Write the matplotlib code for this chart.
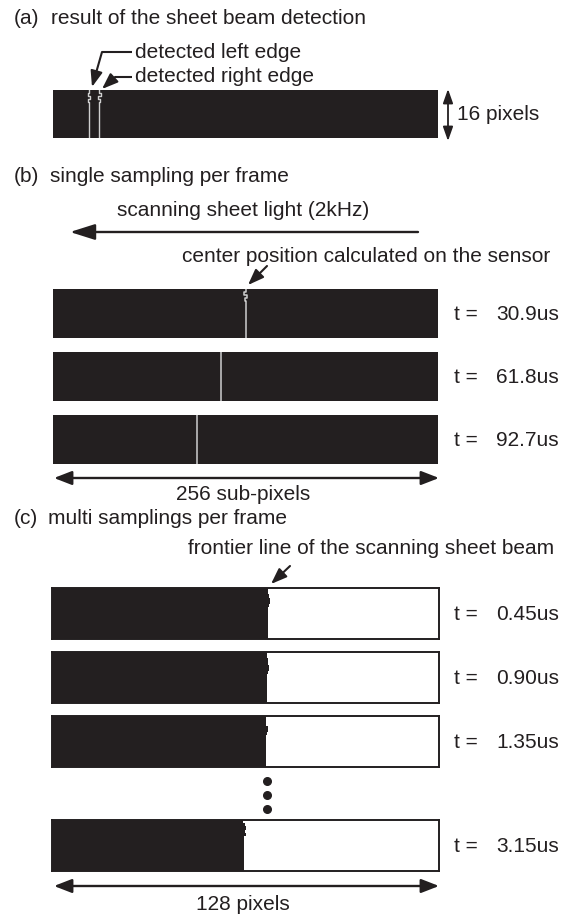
import numpy as np
import matplotlib
matplotlib.use("Agg")
import matplotlib.pyplot as plt

plt.rcParams['font.family'] = ['Liberation Sans', 'DejaVu Sans']

INK = '#231f20'
LINE = '#cfcfcf'

# ---------------- data ----------------
# (a) detected edges per sensor row (16 rows, units: sub-pixels of 256)
a_left_edge = [24.0, 23.0, 24.8, 23.6, 24.0, 24.0, 24.0, 24.0,
               24.0, 24.0, 24.0, 24.0, 24.0, 24.0, 24.0, 24.0]
a_right_edge = [30.6, 31.6, 29.8, 31.0, 30.6, 30.6, 30.6, 30.6,
                30.6, 30.6, 30.6, 30.6, 30.6, 30.6, 30.6, 30.6]

# (b) center position per row for each frame (sub-pixels of 256)
b_times = ['30.9us', '61.8us', '92.7us']
b_centers = [
    [128.2, 127.2, 128.8, 127.6, 128.2, 128.2, 128.2, 128.2,
     128.2, 128.2, 128.2, 128.2, 128.2, 128.2, 128.2, 128.2],
    [111.8] * 16,
    [95.9] * 16,
]

# (c) frontier line per row (pixels of 128)
c_times = ['0.45us', '0.90us', '1.35us', '3.15us']
c_frontier = [
    [71.6, 71.6, 71.8, 72.1, 72.0, 71.8, 71.6, 71.6,
     71.6, 71.6, 71.6, 71.6, 71.6, 71.6, 71.6, 71.6],
    [71.1, 71.1, 71.3, 71.6, 71.8, 71.7, 71.5, 71.2,
     71.1, 71.1, 71.1, 71.1, 71.1, 71.1, 71.1, 71.1],
    [70.8, 70.8, 70.9, 71.4, 71.6, 71.2, 70.8, 70.8,
     70.8, 70.8, 70.8, 70.8, 70.8, 70.8, 70.8, 70.8],
    [63.3, 63.8, 64.3, 63.7, 64.0, 63.5, 63.4, 63.6,
     63.4, 63.4, 63.4, 63.4, 63.4, 63.4, 63.4, 63.4],
]

N_ROWS = 16
SUBPIX = 256
PIX = 128

# ---------------- layout ----------------
W, H = 567, 916
fig = plt.figure(figsize=(W / 100, H / 100), dpi=100)
fig.patch.set_facecolor('white')


def bar_axes(x0, y0, x1, y1):
    ax = fig.add_axes([x0 / W, 1 - y1 / H, (x1 - x0) / W, (y1 - y0) / H])
    ax.set_xticks([])
    ax.set_yticks([])
    ax.set_ylim(N_ROWS, 0)
    return ax


def row_line(ax, vals, **kw):
    vals = np.asarray(vals, float)
    xs = np.repeat(vals, 2)
    ys = np.repeat(np.arange(N_ROWS + 1), 2)[1:-1]
    ax.plot(xs, ys, **kw)


# (a)
ax = bar_axes(53, 90, 438, 138)
ax.set_xlim(0, SUBPIX)
ax.set_facecolor(INK)
for s in ax.spines.values():
    s.set_visible(False)
row_line(ax, a_left_edge, color=LINE, lw=1.0)
row_line(ax, a_right_edge, color=LINE, lw=1.0)

# (b)
b_rows = [(289, 338), (352, 401), (415, 464)]
for (y0, y1), cen in zip(b_rows, b_centers):
    ax = bar_axes(53, y0, 438, y1)
    ax.set_xlim(0, SUBPIX)
    ax.set_facecolor(INK)
    for s in ax.spines.values():
        s.set_visible(False)
    row_line(ax, cen, color=LINE, lw=1.1)

# (c)
c_rows = [(588, 639), (652, 703), (716, 767), (820, 871)]
for (y0, y1), fr in zip(c_rows, c_frontier):
    ax = bar_axes(52, y0, 439, y1)
    ax.set_xlim(0, PIX)
    ax.set_facecolor('white')
    ax.barh(np.arange(N_ROWS) + 0.5, fr, height=1.02, left=0,
            color=INK, edgecolor='none')
    for s in ax.spines.values():
        s.set_color(INK)
        s.set_linewidth(1.4)

# ---------------- overlay (texts, arrows) ----------------
ov = fig.add_axes([0, 0, 1, 1])
ov.set_xlim(0, W)
ov.set_ylim(H, 0)
ov.axis('off')
ov.patch.set_alpha(0)
ov.set_zorder(10)

FS = 15
tkw = dict(fontsize=FS, color=INK, va='center', ha='left')

ov.text(14, 18, '(a)', **tkw)
ov.text(51, 18, 'result of the sheet beam detection', **tkw)
ov.text(14, 176, '(b)', **tkw)
ov.text(50, 176, 'single sampling per frame', **tkw)
ov.text(14, 518, '(c)', **tkw)
ov.text(48, 518, 'multi samplings per frame', **tkw)

big_head = dict(arrowstyle='-|>,head_length=0.95,head_width=0.3',
                color=INK, lw=1.7, mutation_scale=16, shrinkA=0, shrinkB=0)
dbl_head = dict(arrowstyle='<|-|>,head_length=0.72,head_width=0.28',
                color=INK, lw=1.7, mutation_scale=15, shrinkA=0, shrinkB=0)
small_head = dict(arrowstyle='-|>,head_length=0.8,head_width=0.3',
                  color=INK, lw=1.5, mutation_scale=12, shrinkA=0, shrinkB=0)
vdbl_head = dict(arrowstyle='<|-|>,head_length=0.85,head_width=0.3',
                 color=INK, lw=1.3, mutation_scale=10, shrinkA=0, shrinkB=0)

# (a) annotations
ov.text(135, 52, 'detected left edge', **tkw)
ov.text(135, 76, 'detected right edge', **tkw)
ov.plot([132, 102], [52, 52], color=INK, lw=1.5, solid_capstyle='butt')
ov.annotate('', xy=(92, 87), xytext=(102, 52), arrowprops=small_head)
ov.plot([132, 115], [77, 77], color=INK, lw=1.5, solid_capstyle='butt')
ov.annotate('', xy=(102, 89), xytext=(115, 77), arrowprops=small_head)

ov.annotate('', xy=(448, 89), xytext=(448, 141), arrowprops=vdbl_head)
ov.text(457, 115, '16 pixels', **tkw)

# (b) annotations
ov.text(117, 210, 'scanning sheet light (2kHz)', **tkw)
ov.annotate('', xy=(70, 232), xytext=(418, 232), arrowprops=big_head)
ov.text(182, 256, 'center position calculated on the sensor', **tkw)
ov.annotate('', xy=(248, 285), xytext=(267, 266), arrowprops=small_head)

for (y0, y1), t in zip(b_rows, b_times):
    yc = (y0 + y1) / 2 + 1
    ov.text(454, yc, 't =', **tkw)
    ov.text(496, yc, t, **tkw)

ov.annotate('', xy=(54, 478), xytext=(439, 478), arrowprops=dbl_head)
ov.text(243, 495, '256 sub-pixels', fontsize=FS, color=INK,
        va='center', ha='center')

# (c) annotations
ov.text(188, 548, 'frontier line of the scanning sheet beam', **tkw)
ov.annotate('', xy=(271, 584), xytext=(290, 566), arrowprops=small_head)

for (y0, y1), t in zip(c_rows, c_times):
    yc = (y0 + y1) / 2 + 1
    ov.text(454, yc, 't =', **tkw)
    ov.text(496, yc, t, **tkw)

ov.scatter([267, 267, 267], [781, 795, 809], s=30, color=INK, zorder=5)

ov.annotate('', xy=(54, 886), xytext=(439, 886), arrowprops=dbl_head)
ov.text(243, 905, '128 pixels', fontsize=FS, color=INK,
        va='center', ha='center')

fig.savefig('out.png', dpi=100, facecolor='white')
